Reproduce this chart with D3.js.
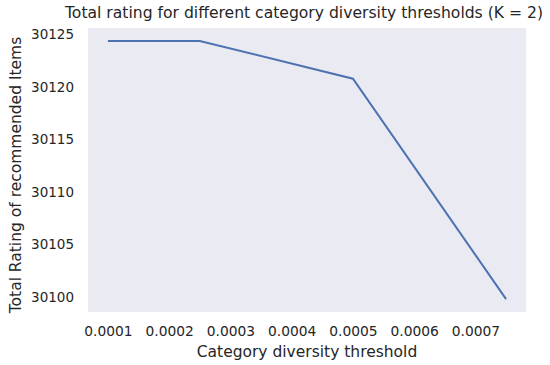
<!DOCTYPE html>
<html>
<head>
<meta charset="utf-8">
<script src="https://cdn.jsdelivr.net/npm/d3@7"></script>
<style>
  body { margin: 0; background: #fff; }
  svg text { font-family: "DejaVu Sans", sans-serif; fill: #262626; }
</style>
</head>
<body>
<div id="chart"></div>
<script>
// values
const thresholds = [0.0001, 0.00025, 0.0005, 0.00075]
const totalRating = [30124.4, 30124.4, 30120.8, 30099.8]
const xTicks = [0.0001, 0.0002, 0.0003, 0.0004, 0.0005, 0.0006, 0.0007]
const yTicks = [30100, 30105, 30110, 30115, 30120, 30125]

const width = 550
const height = 365
const margin = {top: 28, right: 24, bottom: 53, left: 88}
const w = width - margin.left - margin.right
const h = height - margin.top - margin.bottom

// matplotlib-like 5% padding
const pad = (lo, hi) => {
  const d = (hi - lo) * 0.05
  return [lo - d, hi + d]
}

const x = d3.scaleLinear()
  .domain(pad(d3.min(thresholds), d3.max(thresholds)))
  .range([0, w])
const y = d3.scaleLinear()
  .domain(pad(d3.min(totalRating), d3.max(totalRating)))
  .range([h, 0])

const svg = d3.select('#chart')
  .append('svg')
  .attr('width', width)
  .attr('height', height)

const g = svg.append('g')
  .attr('transform', `translate(${margin.left}, ${margin.top})`)

g.append('rect')
  .attr('width', w)
  .attr('height', h)
  .attr('fill', '#eaeaf2')

const xAxis = d3.axisBottom(x)
  .tickValues(xTicks)
  .tickFormat(d3.format('.4f'))
  .tickSize(0)
  .tickPadding(14)
const yAxis = d3.axisLeft(y)
  .tickValues(yTicks)
  .tickFormat(d3.format('d'))
  .tickSize(0)
  .tickPadding(14)

g.append('g')
  .attr('transform', `translate(0, ${h})`)
  .call(xAxis)
  .call(s => s.select('.domain').remove())
  .selectAll('text')
  .attr('font-size', 13.8)
  .attr('font-family', '"DejaVu Sans", sans-serif')

g.append('g')
  .call(yAxis)
  .call(s => s.select('.domain').remove())
  .selectAll('text')
  .attr('font-size', 13.5)
  .attr('font-family', '"DejaVu Sans", sans-serif')

const line = d3.line()
  .x((d, i) => x(thresholds[i]))
  .y(d => y(d))

g.append('path')
  .datum(totalRating)
  .attr('d', line)
  .attr('fill', 'none')
  .attr('stroke', '#4c72b0')
  .attr('stroke-width', 2)

svg.append('text')
  .attr('x', 304)
  .attr('y', 17.5)
  .attr('text-anchor', 'middle')
  .attr('font-size', 15.6)
  .text('Total rating for different category diversity thresholds (K = 2)')

svg.append('text')
  .attr('x', margin.left + w / 2)
  .attr('y', 357)
  .attr('text-anchor', 'middle')
  .attr('font-size', 15.5)
  .text('Category diversity threshold')

svg.append('text')
  .attr('transform', `translate(20.5, ${margin.top + h / 2 + 5}) rotate(-90)`)
  .attr('text-anchor', 'middle')
  .attr('font-size', 15.5)
  .text('Total Rating of recommended Items')
</script>
</body>
</html>
